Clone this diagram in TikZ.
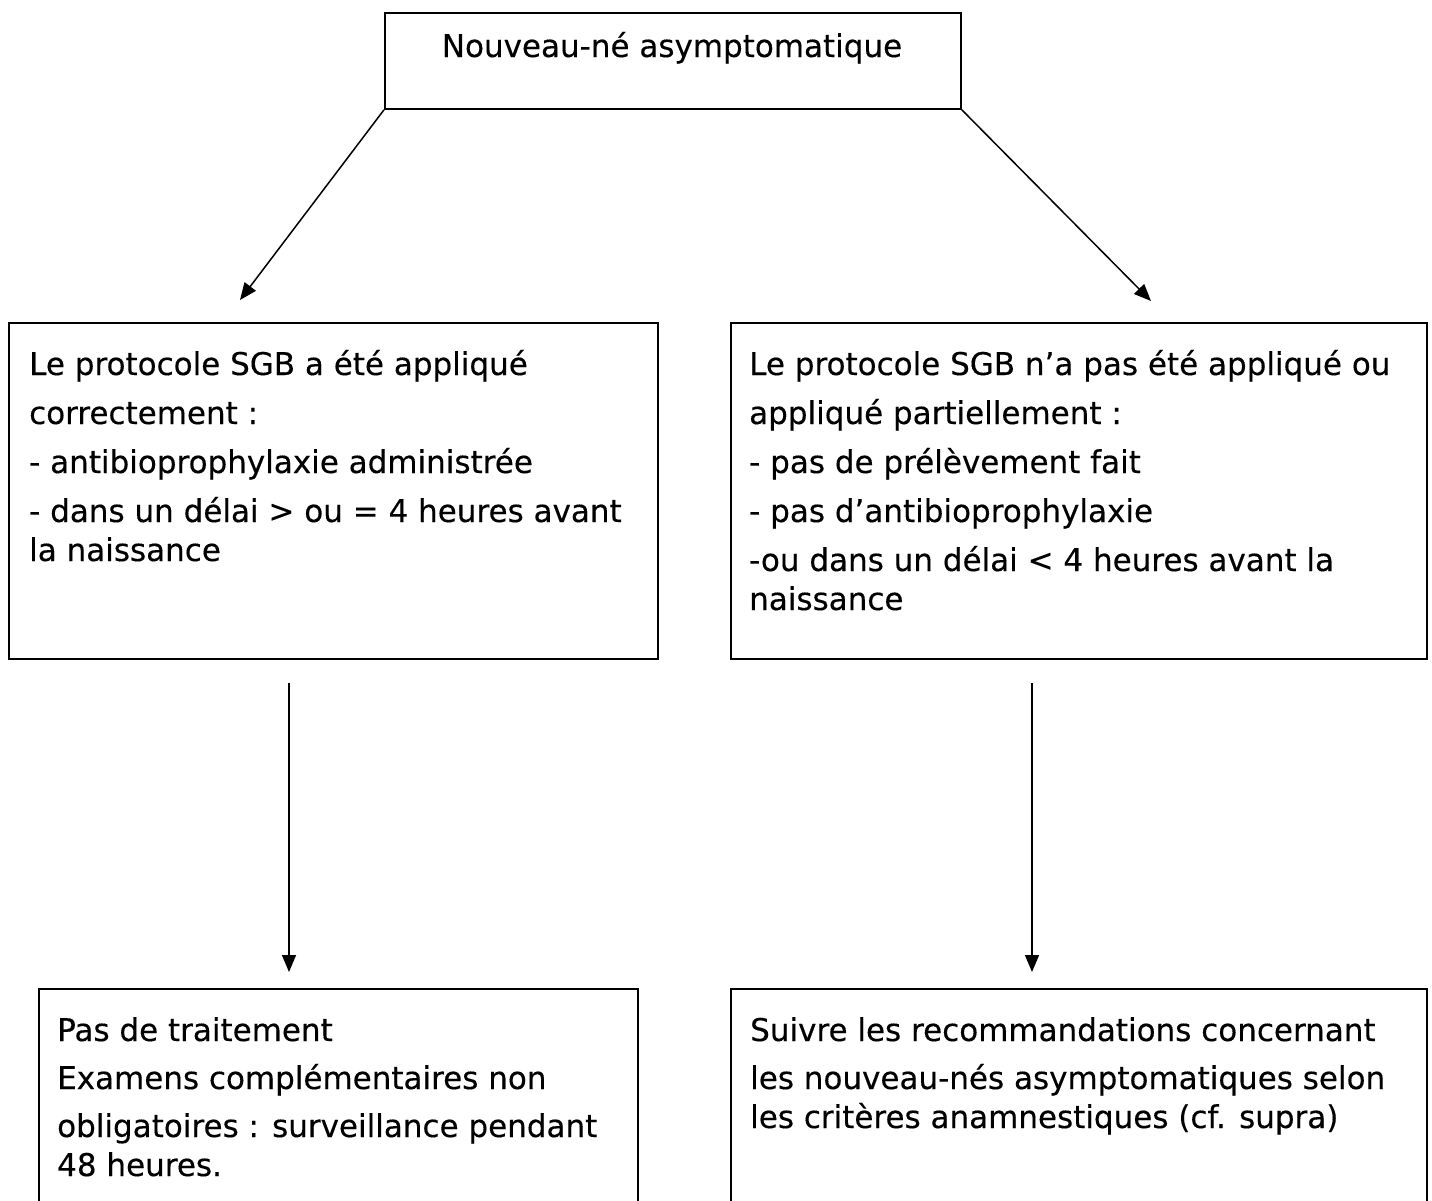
\documentclass[tikz,border=0pt]{standalone}
\usepackage{fontspec}
\setmainfont{DejaVu Sans}[FakeStretch=0.99, FakeBold=0.3]
\usetikzlibrary{arrows.meta}
\begin{document}
\begin{tikzpicture}[x=1pt,y=-1pt,
  box/.style={draw, line width=1.8pt, inner sep=0pt, anchor=north west},
  txt/.style={anchor=base west, inner sep=0pt, font=\fontsize{31.3}{37}\selectfont},
  arr/.style={line width=1.5pt, -{Triangle[length=17pt,width=14pt]}}]
\useasboundingbox (0,0) rectangle (1432,1200);
\clip (0,0) rectangle (1432,1200);

% boxes
\node[box, minimum width=576pt, minimum height=96pt] (top) at (384,12) {};
\node[box, minimum width=649pt, minimum height=336pt] (mL) at (8,322) {};
\node[box, minimum width=696pt, minimum height=336pt] (mR) at (730,322) {};
\node[box, minimum width=599pt, minimum height=260pt] (bL) at (38,988) {};
\node[box, minimum width=696pt, minimum height=260pt] (bR) at (730,988) {};

% title
\node[txt, anchor=base] (toptxt) at (672,57) {Nouveau-né asymptomatique};

% left middle text
\node[txt] (mL1) at (29,375) {Le protocole SGB a été appliqué};
\node[txt] (mL2) at (29,424) {correctement :};
\node[txt] (mL3) at (29,473) {- antibioprophylaxie administrée};
\node[txt] (mL4) at (29,522) {- dans un délai > ou = 4 heures avant};
\node[txt] (mL5) at (29,561) {la naissance};

% right middle text
\node[txt] (mR1) at (749,375) {Le protocole SGB n’a pas été appliqué ou};
\node[txt] (mR2) at (749,424) {appliqué partiellement :};
\node[txt] (mR3) at (749,473) {- pas de prélèvement fait};
\node[txt] (mR4) at (749,522) {- pas d’antibioprophylaxie};
\node[txt] (mR5) at (749,571) {-ou dans un délai < 4 heures avant la};
\node[txt] (mR6) at (749,610) {naissance};

% bottom left text
\node[txt] (bL1) at (57,1041) {Pas de traitement};
\node[txt] (bL2) at (57,1089) {Examens complémentaires non};
\node[txt] (bL3) at (57,1137) {obligatoires : surveillance pendant};
\node[txt] (bL4) at (57,1176) {48 heures.};

% bottom right text
\node[txt] (bR1) at (750,1041) {Suivre les recommandations concernant};
\node[txt] (bR2) at (750,1089) {les nouveau-nés asymptomatiques selon};
\node[txt] (bR3) at (750,1128) {les critères anamnestiques (cf. supra)};

% connectors
\coordinate (aL) at (240,300);
\coordinate (aR) at (1151,301);
\draw[arr] (top.south west) -- (aL);
\draw[arr] (top.south east) -- (aR);
\coordinate (vL1) at (289,683);
\coordinate (vL2) at (289,972);
\coordinate (vR1) at (1032,683);
\coordinate (vR2) at (1032,972);
\draw[arr] (vL1) -- (vL2);
\draw[arr] (vR1) -- (vR2);
\end{tikzpicture}
\end{document}
